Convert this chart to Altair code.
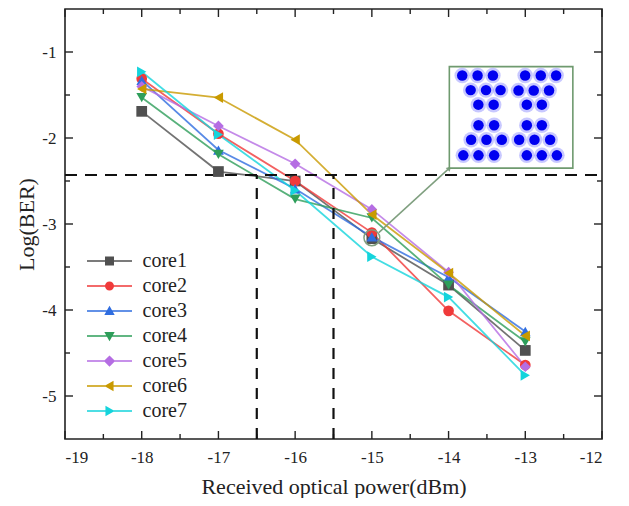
import altair as alt
import pandas as pd

# ---------------- data ----------------
power = [-18, -17, -16, -15, -14, -13]
series_names = ["core1", "core2", "core3", "core4", "core5", "core6", "core7"]
core1 = [-1.69, -2.39, -2.50, -3.17, -3.71, -4.47]
core2 = [-1.31, -1.95, -2.50, -3.10, -4.01, -4.64]
core3 = [-1.33, -2.14, -2.59, -3.15, -3.62, -4.25]
core4 = [-1.53, -2.19, -2.71, -2.93, -3.71, -4.37]
core5 = [-1.40, -1.86, -2.30, -2.83, -3.56, -4.66]
core6 = [-1.43, -1.53, -2.02, -2.89, -3.57, -4.30]
core7 = [-1.23, -1.96, -2.61, -3.38, -3.85, -4.76]
series_values = [core1, core2, core3, core4, core5, core6, core7]

x_major = [-19, -18, -17, -16, -15, -14, -13, -12]
x_minor = [-18.5, -17.5, -16.5, -15.5, -14.5, -13.5, -12.5]
y_major = [-5, -4, -3, -2, -1]
y_minor = [-4.5, -3.5, -2.5, -1.5]

fec_log = [-2.43]              # FEC threshold, log(BER)
cut_power = [-16.5, -15.5]     # received power where curves cross the threshold

# inset constellation (I, Q)
const_i = [-3.1, -2.1, -1.1, -2.55, -1.55, -0.6, -2.05, -1.05,
           1.0, 2.02, 3.02, 0.57, 1.56, 2.56, 1.11, 2.09,
           -2.04, -1.02, -2.52, -1.52, -0.52, -3.03, -2.04, -1.02,
           1.11, 2.09, 0.61, 1.61, 2.63, 1.11, 2.09, 3.07]
const_q = [2.6, 2.6, 2.6, 1.65, 1.65, 1.65, 0.7, 0.7,
           2.6, 2.6, 2.6, 1.62, 1.62, 1.62, 0.7, 0.7,
           -0.65, -0.65, -1.59, -1.59, -1.59, -2.61, -2.61, -2.61,
           -0.65, -0.65, -1.59, -1.59, -1.59, -2.61, -2.61, -2.61]

# ---------------- styling ----------------
W, H = 537, 430
FONT = "Liberation Serif"
INK = "#222222"
GUIDE = "#7f9f7f"
colors = ["#505050", "#f03a3a", "#2f6de0", "#2e9e5a", "#b56de3", "#c99a00", "#14d4dc"]
marker_shapes = ["square", "circle", "triangle-up", "triangle-down",
                 "diamond", "triangle-left", "triangle-right"]
LINE = "M-5,-0.17H5V0.17H-5Z "
legend_paths = [
    LINE + "M-1,-1H1V1H-1Z",
    LINE + "M1,0A1,1,0,1,1,-1,0A1,1,0,1,1,1,0Z",
    LINE + "M0,-1.15L1.15,0.9L-1.15,0.9Z",
    LINE + "M0,1.15L-1.15,-0.9L1.15,-0.9Z",
    LINE + "M0,-1.25L1.25,0L0,1.25L-1.25,0Z",
    LINE + "M-1.15,0L0.9,-1.15L0.9,1.15Z",
    LINE + "M1.15,0L-0.9,1.15L-0.9,-1.15Z",
]

# inset placement (data units)
inset_box = {"x": -13.99, "x2": -12.38, "y": -1.17, "y2": -2.35}
inset_center = (-13.202, -1.737)
inset_scale = (0.2, 0.178)
marked_point = {"x": -15.0, "y": -3.16}
connector = {"x": -14.91, "y": -3.10, "x2": -13.99, "y2": -2.35}

rows = []
for name, vals in zip(series_names, series_values):
    for p, v in zip(power, vals):
        rows.append({"core": name, "power": p, "logber": v})
df = pd.DataFrame(rows)

xs = alt.Scale(domain=[-19, -12], nice=False, zero=False)
ys = alt.Scale(domain=[-5.5, -0.5], nice=False, zero=False)

x_axis = alt.Axis(values=x_major, labelExpr="toString(datum.value)",
                  title="Received optical power(dBm)", ticks=False, domain=False,
                  grid=False, labelPadding=10, titlePadding=11, labelFontSize=17,
                  titleFontSize=22, labelFont=FONT, titleFont=FONT,
                  titleFontWeight="normal", labelColor=INK, titleColor=INK)
y_axis = alt.Axis(values=y_major, labelExpr="toString(datum.value)",
                  title="Log(BER)", ticks=False, domain=False, grid=False,
                  labelPadding=9, titlePadding=3, labelFontSize=17,
                  titleFontSize=22, labelFont=FONT, titleFont=FONT,
                  titleFontWeight="normal", labelColor=INK, titleColor=INK)

def xenc(field):
    return alt.X(field, type="quantitative", scale=xs, axis=x_axis)

def yenc(field):
    return alt.Y(field, type="quantitative", scale=ys, axis=y_axis)

# series lines
lines = alt.Chart(df).mark_line(strokeWidth=1.8, opacity=0.8).encode(
    x=xenc("power"),
    y=yenc("logber"),
    color=alt.Color("core:N", scale=alt.Scale(domain=series_names, range=colors), legend=None),
    detail="core:N",
)

points = alt.Chart(df).mark_point(filled=True, opacity=1, size=115).encode(
    x=xenc("power"),
    y=yenc("logber"),
    color=alt.Color("core:N", scale=alt.Scale(domain=series_names, range=colors), legend=None),
    shape=alt.Shape("core:N", scale=alt.Scale(domain=series_names, range=marker_shapes), legend=None),
)

# inward ticks
def tick_layer(values, orient, length):
    d = pd.DataFrame({"v": values})
    base = alt.Chart(d).mark_rule(color=INK, strokeWidth=1.4)
    if orient == "bottom":
        return base.encode(x=xenc("v"), y=alt.value(H), y2=alt.value(H - length))
    if orient == "top":
        return base.encode(x=xenc("v"), y=alt.value(0), y2=alt.value(length))
    if orient == "left":
        return base.encode(y=yenc("v"), x=alt.value(0), x2=alt.value(length))
    return base.encode(y=yenc("v"), x=alt.value(W), x2=alt.value(W - length))

ticks = [tick_layer(x_major, o, 8) for o in ("bottom", "top")] + \
        [tick_layer(x_minor, o, 5) for o in ("bottom", "top")] + \
        [tick_layer(y_major, o, 8) for o in ("left", "right")] + \
        [tick_layer(y_minor, o, 5) for o in ("left", "right")]

# dashed guide lines
hdash = alt.Chart(pd.DataFrame({"y": fec_log, "x": [-19], "x2": [-12]})).mark_rule(
    color="#111", strokeWidth=2.2, strokeDash=[12, 8]).encode(
    x=xenc("x"), x2="x2", y=yenc("y"))
vdash = alt.Chart(pd.DataFrame({"x": cut_power, "y": [-5.5, -5.5], "y2": fec_log * 2})).mark_rule(
    color="#111", strokeWidth=2.2, strokeDash=[11, 9]).encode(
    x=xenc("x"), y=yenc("y"), y2="y2")

# marked point & connector
ring = alt.Chart(pd.DataFrame([marked_point])).mark_point(
    shape="circle", size=250, filled=False, stroke=GUIDE, strokeWidth=1.5, opacity=1).encode(
    x=xenc("x"), y=yenc("y"))
conn = alt.Chart(pd.DataFrame([connector])).mark_rule(color=GUIDE, strokeWidth=1.5).encode(
    x=xenc("x"), y=yenc("y"), x2="x2", y2="y2")
arrow = alt.Chart(pd.DataFrame([connector])).mark_point(
    shape="triangle-up", angle=44, size=30, filled=True, color=GUIDE, opacity=1).encode(
    x=xenc("x2"), y=yenc("y2"))

# inset box + constellation
box = alt.Chart(pd.DataFrame([inset_box])).mark_rect(
    fill="white", stroke="#6f9a6f", strokeWidth=1.6).encode(
    x=xenc("x"), x2="x2", y=yenc("y"), y2="y2")
cdf = pd.DataFrame({"i": const_i, "q": const_q})
cbase = alt.Chart(cdf).transform_calculate(
    cx=f"{inset_center[0]} + {inset_scale[0]} * datum.i",
    cy=f"{inset_center[1]} + {inset_scale[1]} * datum.q",
)
halo = cbase.mark_point(filled=True, color="#4a4aff", size=240, opacity=0.3).encode(
    x=xenc("cx"), y=yenc("cy"))
blob = cbase.mark_point(filled=True, color="#0000f0", size=110, opacity=1).encode(
    x=xenc("cx"), y=yenc("cy"))

# legend (from scales only)
leg_props = dict(orient="none", legendX=34.5, legendY=242, title=None,
                 labelFont=FONT, labelFontSize=20, labelColor=INK,
                 symbolSize=81, symbolStrokeWidth=0, symbolOpacity=1,
                 labelOffset=23, rowPadding=5, padding=0)
legend_layer = alt.Chart(df).transform_filter("false").mark_point(filled=True, opacity=1).encode(
    color=alt.Color("core:N", scale=alt.Scale(domain=series_names, range=colors),
                    legend=alt.Legend(**leg_props)),
    shape=alt.Shape("core:N", scale=alt.Scale(domain=series_names, range=legend_paths),
                    legend=alt.Legend(**leg_props)),
)

chart = alt.layer(
    lines, *ticks, hdash, vdash, points, ring, conn, arrow, box, halo, blob, legend_layer
).resolve_scale(color="independent", shape="independent").properties(
    width=W, height=H,
    autosize=alt.AutoSizeParams(type="none"),
    padding={"left": 57, "top": 1, "right": 12, "bottom": 59},
).configure_view(stroke=INK, strokeWidth=1.6)

chart.save("out.html", embed_options={"renderer": "svg", "actions": False})
